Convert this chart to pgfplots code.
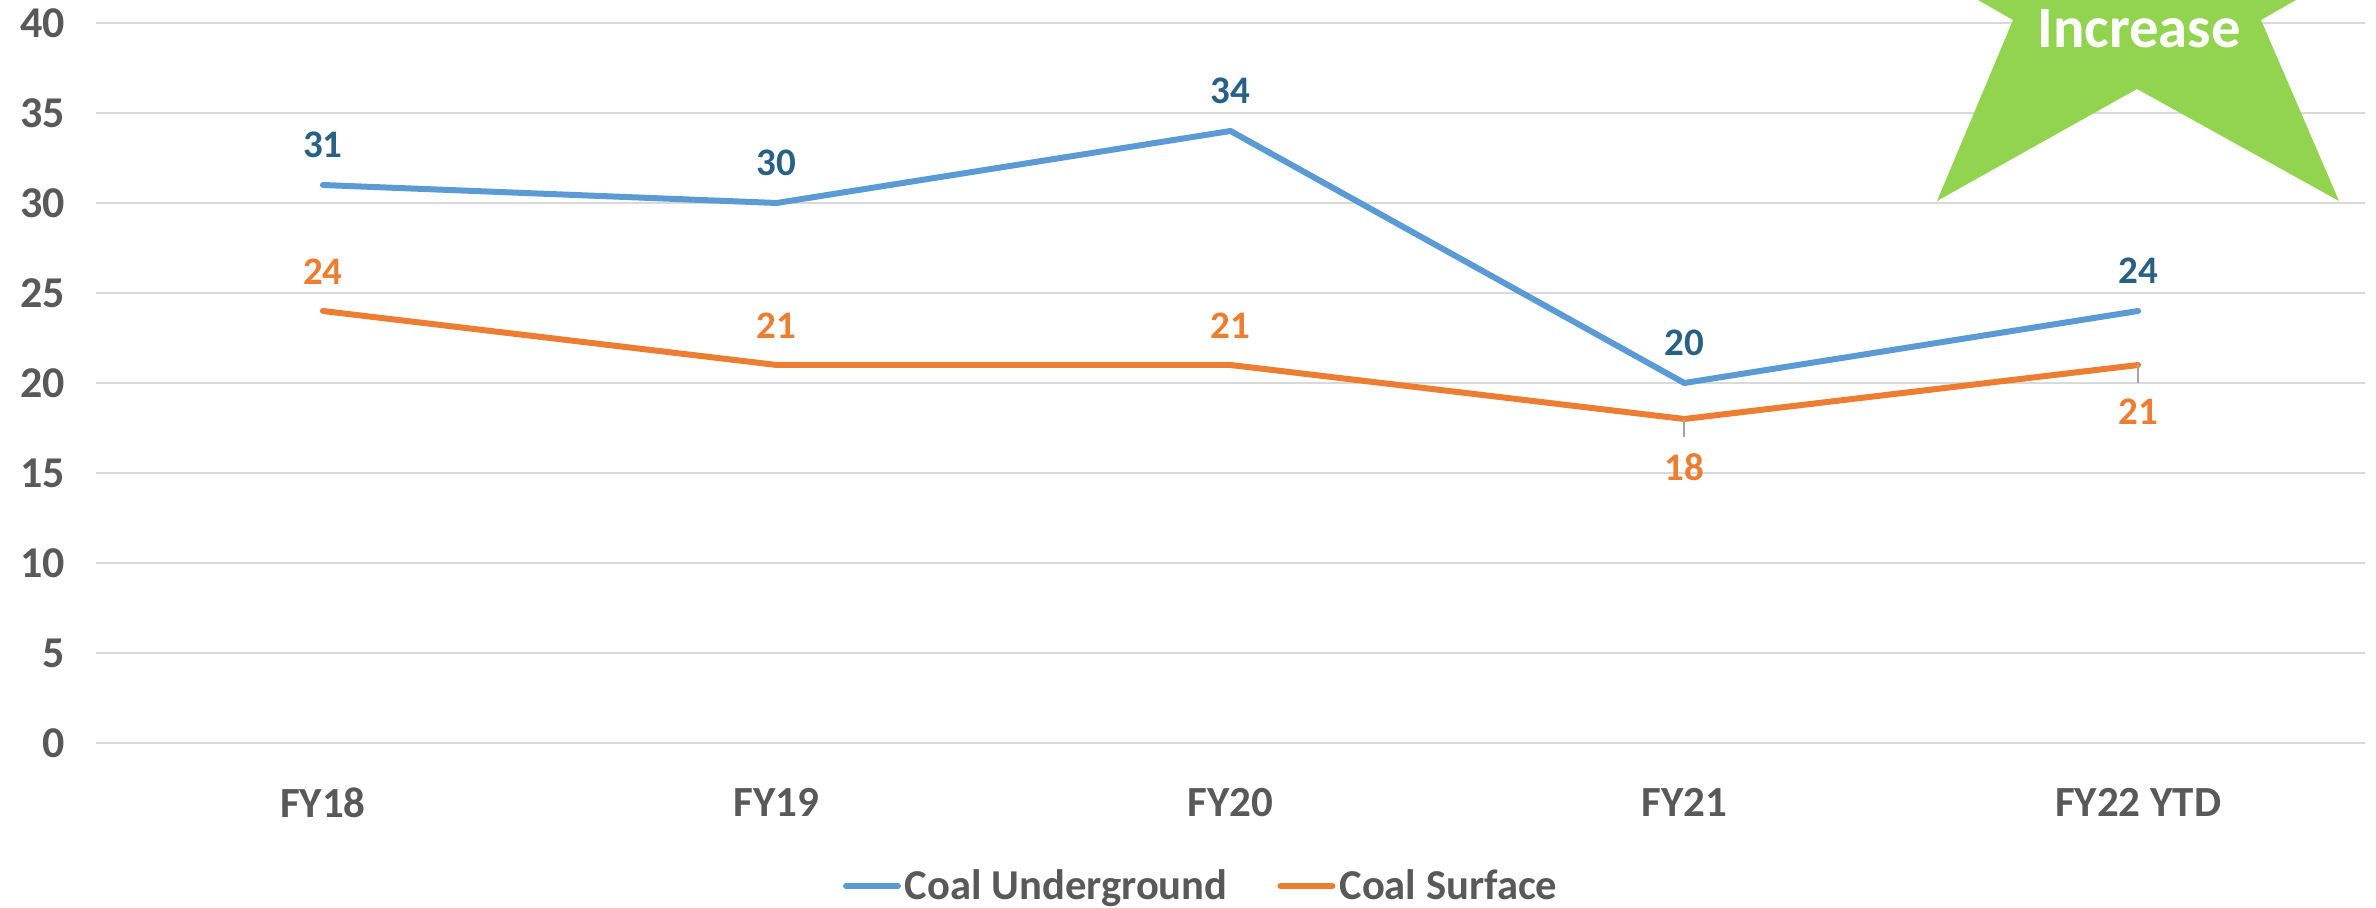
\documentclass[border=0pt]{standalone}
\usepackage{fontspec}
\setmainfont{Carlito}
\usepackage{pgfplots}
\usepackage{pgfplotstable}
\pgfplotsset{compat=1.18}
\definecolor{ugline}{HTML}{5B9BD5}
\definecolor{sfline}{HTML}{ED7D31}
\definecolor{uglabel}{HTML}{286086}
\definecolor{txt}{HTML}{595959}
\definecolor{gridc}{HTML}{D9D9D9}
\definecolor{starc}{HTML}{92D450}
\definecolor{lead}{HTML}{A6A6A6}
\pgfplotstableread{
x y off
0 31 20
1 30 20
2 34 20
3 20 20
4 24 20
}\ugdata
\pgfplotstableread{
x y off
0 24 19.5
1 21 19.5
2 21 19.5
3 18 -24
4 21 -23.5
}\sfdata
\begin{document}
\begin{tikzpicture}[x=1pt,y=1pt]
\useasboundingbox (0,0) rectangle (1188,454);
\clip (0,0) rectangle (1188,454);
\begin{axis}[
  at={(48pt,82.5pt)}, anchor=south west,
  scale only axis, width=1134.5pt, height=360pt,
  xmin=-0.5, xmax=4.5, ymin=0, ymax=40,
  xtick={0,1,2,3,4},
  xticklabels={FY18,FY19,FY20,FY21,FY22 YTD},
  ytick={0,5,...,40},
  axis x line*=bottom, axis y line*=left,
  axis line style={draw=none},
  x axis line style={draw=gridc,line width=1pt},
  tick style={draw=none},
  ymajorgrids, grid style={gridc,line width=1pt},
  /pgf/number format/assume math mode=true,
  tick label style={text=txt,font=\bfseries},
  yticklabel style={font=\fontsize{22}{26}\selectfont\bfseries,xshift=-12pt},
  xticklabel style={font=\fontsize{21.5}{26}\selectfont\bfseries,yshift=-19pt},
  clip=false,
  visualization depends on=\thisrow{off}\as\off,
  nodes near coords,
  every node near coord/.append style={anchor=center,yshift=\off pt,font=\fontsize{19.5}{23}\selectfont\bfseries},
  legend columns=2,
  legend style={at={(0.4875,-0.1986)},anchor=center,draw=none,fill=none,
    font=\fontsize{21.3}{25}\selectfont\bfseries,text=txt,
    /tikz/every even column/.style={column sep=23pt},inner sep=0pt},
  legend image code/.code={\draw[#1,line cap=round] (0,0) -- (26pt,0);},
]
\addplot[ugline,line width=3pt,line cap=round,line join=round,no marks,
  every node near coord/.append style={text=uglabel}] table[x=x,y=y] {\ugdata};
\addlegendentry{Coal Underground}
\addplot[sfline,line width=3pt,line cap=round,line join=round,no marks,
  every node near coord/.append style={text=sfline}] table[x=x,y=y] {\sfdata};
\addlegendentry{Coal Surface}
\draw[lead,line width=1pt] (axis cs:3,18) -- (axis cs:3,17);
\draw[lead,line width=1pt] (axis cs:4,21) -- (axis cs:4,20);
\end{axis}
\fill[starc] (968.5,353.5) -- (1006.5,444) -- (954,474) -- (1183,474) -- (1130.5,444) -- (1169.5,353.5) -- (1068.5,409.5) -- cycle;
\node[text=white,font=\fontsize{29.3}{34}\selectfont\bfseries,anchor=base,inner sep=0pt] at (1069.5,430) {Increase};
\end{tikzpicture}
\end{document}
